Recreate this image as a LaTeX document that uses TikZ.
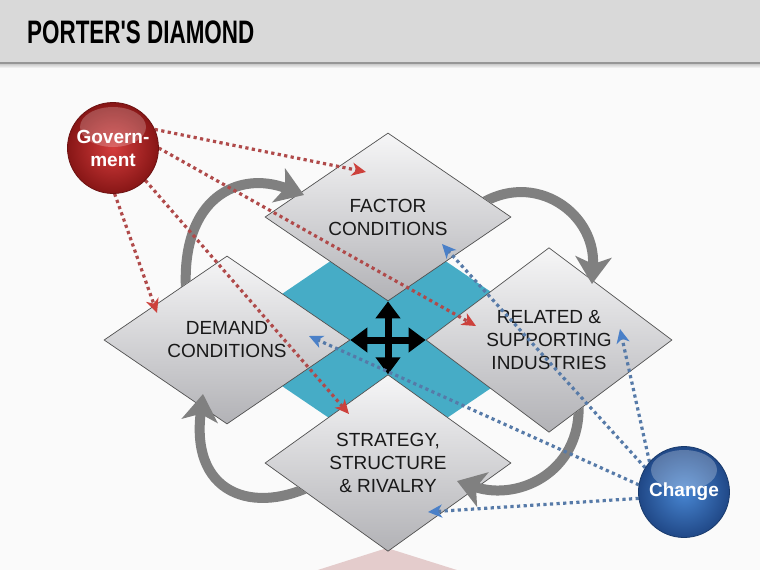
\documentclass[tikz,border=0pt]{standalone}
\usepackage{fontspec}
\setmainfont{Liberation Sans}
\usepackage{graphicx}
\usetikzlibrary{arrows.meta,shapes.geometric}
\definecolor{pagebg}{RGB}{250,250,250}
\definecolor{hdr}{RGB}{217,217,217}
\definecolor{hdrline}{RGB}{150,150,150}
\definecolor{corecol}{RGB}{70,172,198}
\definecolor{arrgray}{RGB}{128,128,128}
\definecolor{reddot}{RGB}{176,74,74}
\definecolor{redtip}{RGB}{205,65,60}
\definecolor{bluedot}{RGB}{86,122,168}
\definecolor{bluetip}{RGB}{74,128,200}
\definecolor{dtop}{RGB}{246,246,247}
\definecolor{dbot}{RGB}{178,178,182}
\definecolor{dedge}{RGB}{80,80,80}
\definecolor{pinkish}{RGB}{228,204,204}
\definecolor{govin}{RGB}{212,60,60}
\definecolor{govout}{RGB}{135,22,22}
\definecolor{chgin}{RGB}{72,134,210}
\definecolor{chgout}{RGB}{32,72,135}
\tikzset{
  diam/.style={shape=diamond, minimum width=246pt, minimum height=168pt,
    inner sep=0pt, draw=dedge, line width=0.7pt, top color=dtop, bottom color=dbot,
    align=center, text=black!90, font=\fontsize{19}{23}\selectfont},
  cyc/.style={draw=arrgray, line width=10pt,
    -{Stealth[length=27pt,width=36pt,inset=7pt]}},
  govline/.style={draw=reddot, line width=3.2pt, dash pattern=on 3.2pt off 3.4pt,
    -{Stealth[length=14pt,width=13pt,inset=4pt,color=redtip]}},
  chgline/.style={draw=bluedot, line width=3.2pt, dash pattern=on 3.2pt off 3.4pt,
    -{Stealth[length=14pt,width=13pt,inset=4pt,color=bluetip]}},
  sphere/.style={circle, minimum size=91pt, inner sep=0pt, shading=radial},
  spheretext/.style={text=white, align=center, font=\bfseries\fontsize{19}{23}\selectfont},
  crossarr/.style={draw=black, line width=7pt,
    {Triangle[length=17pt,width=24pt]}-{Triangle[length=17pt,width=24pt]}}
}
\begin{document}
\begin{tikzpicture}[x=1pt,y=-1pt]
\useasboundingbox (0,0) rectangle (760,570);
\clip (0,0) rectangle (760,570);
% background and header
\fill[pagebg] (0,0) rectangle (760,570);
\fill[hdr] (0,0) rectangle (760,62);
\shade[top color=black!25, bottom color=pagebg] (0,63) rectangle (760,68);
\fill[hdrline] (0,61.5) rectangle (760,64);
\node[anchor=base west, inner sep=0pt] (title) at (27,43)
  {\scalebox{0.69}[1]{\fontsize{32.5}{32}\selectfont\bfseries PORTER\textquotesingle S DIAMOND}};
% partial shape at the bottom
\fill[pinkish] (387,548) -- (280,582) -- (495,582) -- cycle;
% teal core
\node[shape=diamond, fill=corecol, minimum width=348pt, minimum height=236pt,
  inner sep=0pt] (core) at (388,340) {};
% diamonds
\node[diam] (factor) at (388,217) {FACTOR\\CONDITIONS};
\node[diam] (related) at (549,340) {RELATED \&\\SUPPORTING\\INDUSTRIES};
\node[diam] (demand) at (227,340) {DEMAND\\CONDITIONS};
\node[diam] (strategy) at (388,463) {STRATEGY,\\STRUCTURE\\\& RIVALRY};
% cycle arrows (tails tucked behind the diamond they leave)
\begin{scope}[even odd rule]
\clip (0,0) rectangle (760,570)
  (demand.north) -- (demand.east) -- (demand.south) -- (demand.west) -- cycle;
\draw[cyc] (186,290) .. controls (181,198) and (238,170) .. (304,195);
\end{scope}
\begin{scope}[even odd rule]
\clip (0,0) rectangle (760,570)
  (factor.north) -- (factor.east) -- (factor.south) -- (factor.west) -- cycle;
\draw[cyc] (472,210) .. controls (528,166) and (596,210) .. (592,284);
\end{scope}
\begin{scope}[even odd rule]
\clip (0,0) rectangle (760,570)
  (related.north) -- (related.east) -- (related.south) -- (related.west) -- cycle;
\draw[cyc] (578,396) .. controls (586,470) and (520,502) .. (457,481);
\end{scope}
\begin{scope}[even odd rule]
\clip (0,0) rectangle (760,570)
  (strategy.north) -- (strategy.east) -- (strategy.south) -- (strategy.west) -- cycle;
\draw[cyc] (322,480) .. controls (262,516) and (190,500) .. (203,394);
\end{scope}
% cross
\draw[crossarr] (factor.south) -- (strategy.north);
\draw[crossarr] (demand.east) -- (related.west);
% spheres
\node[sphere, inner color=govin, outer color=govout] (gov) at (113,148) {};
\node[sphere, inner color=chgin, outer color=chgout] (chg) at (684,492) {};
% arrow end points
\coordinate (gF) at (366,172);
\coordinate (gR) at (476,326);
\coordinate (gS) at (349,414);
\coordinate (gD) at (157,313);
\coordinate (cF) at (442,244);
\coordinate (cD) at (309,336);
\coordinate (cR) at (620,329);
\coordinate (cS) at (428,512);
% dotted influence lines
\draw[govline] (gov.24) -- (gF);
\draw[govline] (gov.0) -- (gR);
\draw[govline] (gov.-45) -- (gS);
\draw[govline] (gov.-88) -- (gD);
\draw[chgline] (chg.148) -- (cF);
\draw[chgline] (chg.171) -- (cD);
\draw[chgline] (chg.139) -- (cR);
\draw[chgline] (chg.188) -- (cS);
% sphere gloss and borders
\draw[govout!80!black, line width=0.8pt] (gov.center) circle[radius=45.5pt];
\draw[chgout!80!black, line width=0.8pt] (chg.center) circle[radius=45.5pt];
\fill[white, opacity=0.22] (113,127) ellipse[x radius=33pt, y radius=20pt];
\fill[white, opacity=0.25] (684,470) ellipse[x radius=33pt, y radius=20pt];
\node[spheretext] (govtext) at (gov.center) {Govern-\\ment};
\node[spheretext] (chgtext) at (chg.center) {Change};
\end{tikzpicture}
\end{document}
